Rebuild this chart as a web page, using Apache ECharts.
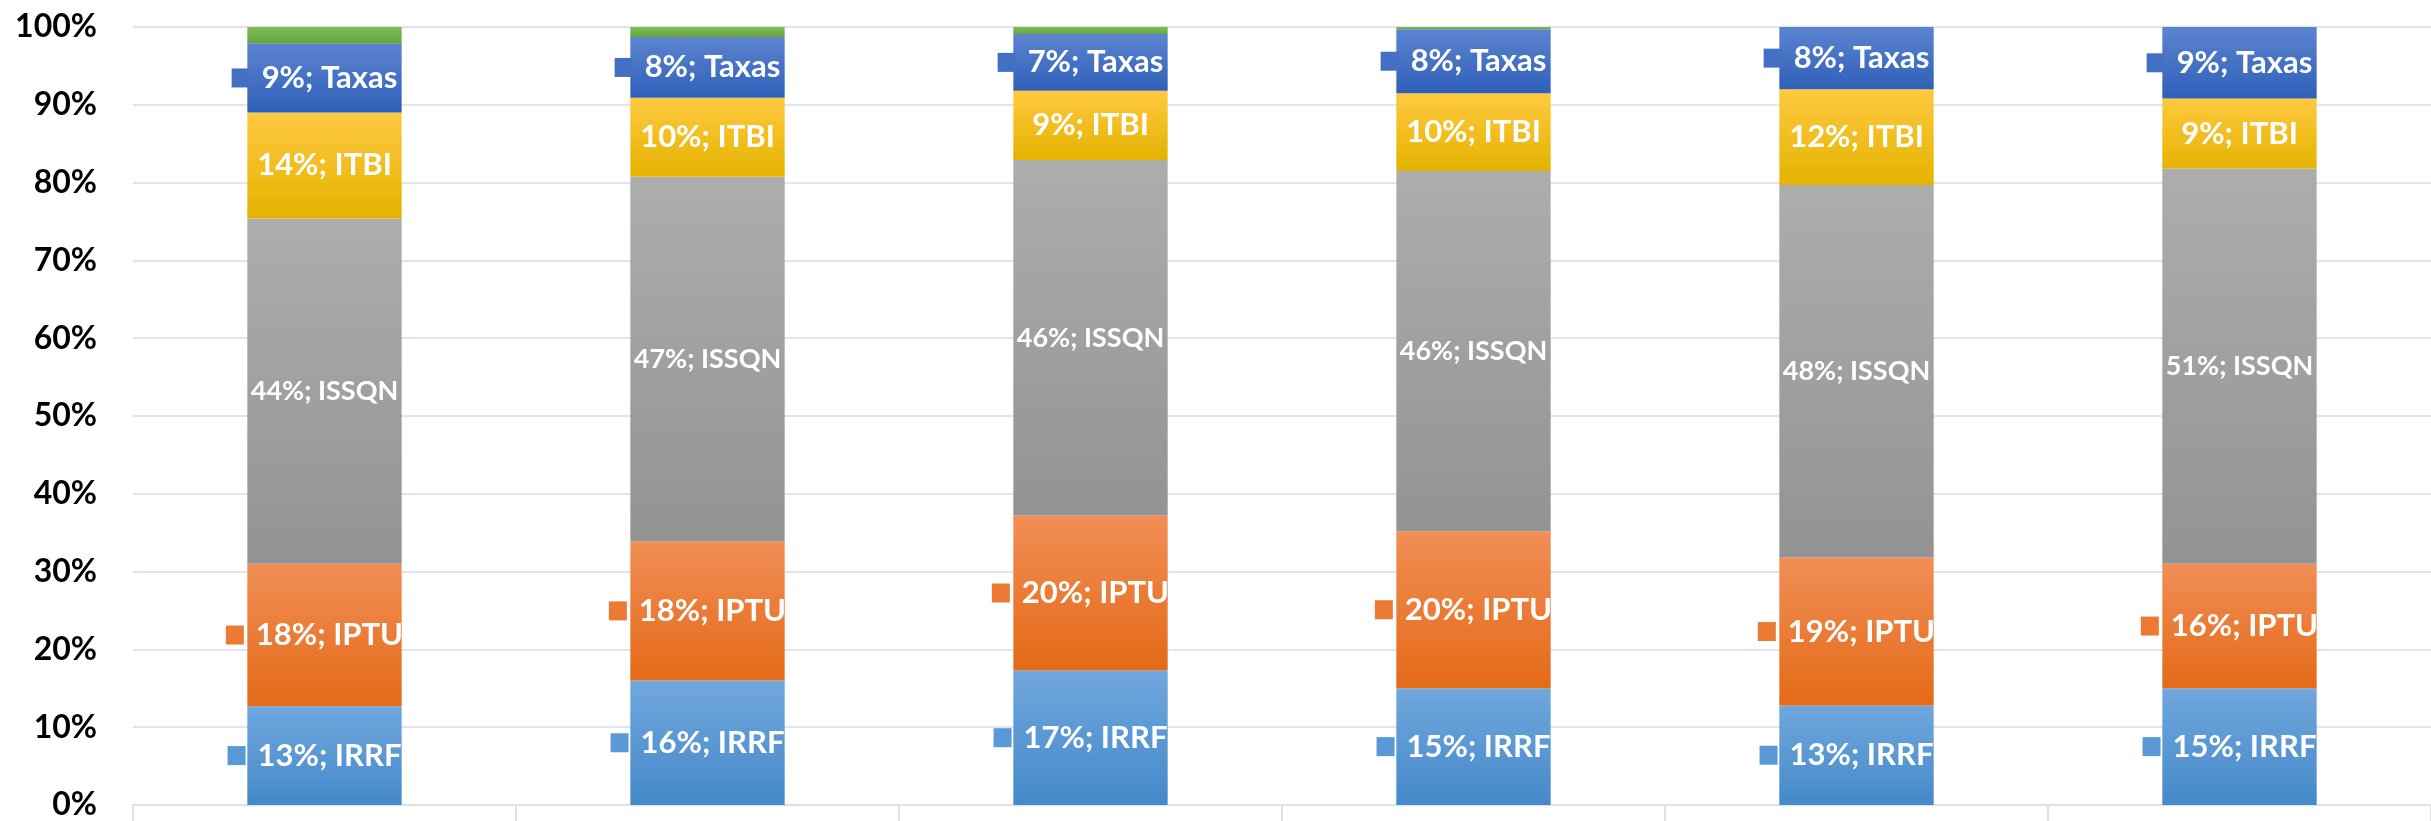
<!DOCTYPE html>
<html>
<head>
<meta charset="utf-8">
<style>
  html, body { margin: 0; padding: 0; background: #fff; }
  #chart { width: 2431px; height: 821px; }
</style>
<script src="https://cdn.jsdelivr.net/npm/echarts@6/dist/echarts.min.js"></script>
</head>
<body>
<div id="chart"></div>
<script>
// categories (x labels are cut off in the reference)
var years = ['2013', '2014', '2015', '2016', '2017', '2018']

// share of each tax per year, in %
var irrf = [12.7, 16.0, 17.3, 15.0, 12.8, 15.0]
var iptu = [18.3, 17.9, 19.9, 20.2, 19.0, 16.0]
var issqn = [44.4, 46.9, 45.7, 46.3, 47.9, 50.8]
var itbi = [13.6, 10.1, 8.9, 10.0, 12.3, 9.0]
var taxas = [8.9, 7.8, 7.3, 8.2, 8.0, 9.2]
var outros = [2.1, 1.3, 0.9, 0.3, 0, 0]

var yTicks = [0, 10, 20, 30, 40, 50, 60, 70, 80, 90, 100]

var FONT = 'Lato'

function grad(top, bottom) {
  return new echarts.graphic.LinearGradient(0, 0, 0, 1, [
    { offset: 0, color: top },
    { offset: 1, color: bottom }
  ])
}

// label with the little legend key in front, like excel does
function keyLabel(name, keyColor) {
  return {
    show: true,
    position: 'inside',
    offset: [-10, 0],
    formatter: function(p) {
      return '{k|}{t|' + Math.round(p.value) + '%; ' + name + '}'
    },
    rich: {
      k: { width: 18, height: 19, backgroundColor: keyColor },
      t: {
        color: '#fff',
        fontFamily: FONT,
        fontWeight: 'bold',
        fontSize: 31,
        padding: [0, 0, 0, 12]
      }
    }
  }
}

function plainLabel(name, size) {
  return {
    show: true,
    position: 'inside',
    color: '#fff',
    fontFamily: FONT,
    fontWeight: 'bold',
    fontSize: size,
    formatter: function(p) {
      return Math.round(p.value) + '%; ' + name
    }
  }
}

function bar(name, data, top, bottom, label) {
  return {
    name: name,
    type: 'bar',
    stack: 'total',
    barWidth: '40.3%',
    data: data,
    itemStyle: { color: grad(top, bottom) },
    label: label || { show: false },
    emphasis: { disabled: true }
  }
}

var chart = echarts.init(document.getElementById('chart'))
chart.setOption({
  animation: false,
  grid: { left: 133, top: 27, width: 2309, height: 780 },
  xAxis: {
    type: 'category',
    data: years,
    axisLine: { show: true, lineStyle: { color: '#dde1e6', width: 2 } },
    axisTick: { show: true, length: 16, lineStyle: { color: '#dde1e6', width: 2 } },
    axisLabel: { show: false }
  },
  yAxis: {
    type: 'value',
    min: yTicks[0],
    max: yTicks[yTicks.length - 1],
    interval: 10,
    axisLine: { show: false },
    axisTick: { show: false },
    splitLine: { lineStyle: { color: '#e1e4e9', width: 2 } },
    axisLabel: {
      formatter: '{value}%',
      color: '#000',
      fontFamily: FONT,
      fontWeight: 'bold',
      fontSize: 32,
      margin: 36
    }
  },
  series: [
    bar('IRRF', irrf, '#70a7dd', '#4589ca', keyLabel('IRRF', '#5a98d6')),
    bar('IPTU', iptu, '#f18e56', '#e46a17', keyLabel('IPTU', '#ec7a35')),
    bar('ISSQN', issqn, '#adadad', '#939393', plainLabel('ISSQN', 27)),
    bar('ITBI', itbi, '#ffc940', '#e4b300', plainLabel('ITBI', 31)),
    bar('Taxas', taxas, '#5c84d0', '#2f60b9', keyLabel('Taxas', '#4470c4')),
    bar('Outros', outros, '#81bb5b', '#67a53c')
  ]
})
</script>
</body>
</html>
